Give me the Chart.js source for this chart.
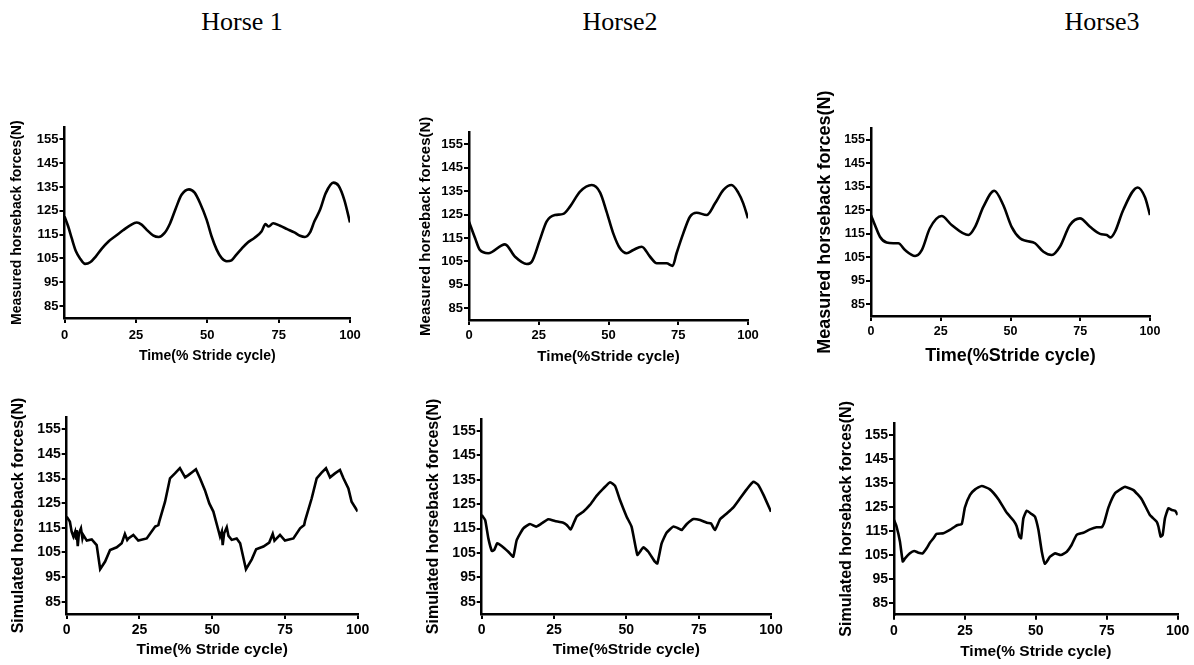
<!DOCTYPE html>
<html>
<head>
<meta charset="utf-8">
<script src="https://cdn.jsdelivr.net/npm/chart.js@4/dist/chart.umd.min.js"></script>
<style>
  body { margin: 0; background: #fff; }
  #page { position: relative; width: 1194px; height: 665px; overflow: hidden; background: #fff; }
  canvas { position: absolute; }
  .horse { position: absolute; font-family: "Liberation Serif", serif; font-size: 26px; color: #000;
           transform: translate(-50%, -50%); white-space: nowrap; }
</style>
</head>
<body>
<div id="page"></div>
<script>
// --- data ---
const horses = ['Horse 1', 'Horse2', 'Horse3'];
const xTicks = [0, 25, 50, 75, 100];
const yTicks = [85, 95, 105, 115, 125, 135, 145, 155];

// measured, horse 1
const m1T = [0, 1.3, 2.5, 4, 5.5, 7.2, 9, 11, 13, 15.5, 18, 20.5, 23, 25.3, 27, 28.8, 31, 33, 35, 37, 39, 41, 43.6, 45.5, 47.5, 49.8, 51.5, 53.3, 55, 56.8, 58.5, 60, 62, 64, 66.5, 69, 70.4, 71.5, 73.1, 75.5, 78, 80.5, 82.5, 84.2, 86, 87.5, 89.5, 91.5, 94.2, 96, 98, 100];
const m1F = [122.6, 118.4, 113.6, 108, 104.9, 102.7, 103.4, 105.9, 109, 112.2, 114.5, 116.8, 118.9, 120.1, 119.2, 117, 114.7, 114, 115.6, 119.8, 126.1, 131.7, 134, 132.7, 128.2, 121.2, 114.3, 108.7, 105.2, 103.8, 104.2, 106.3, 109, 111.5, 113.6, 116.3, 119.4, 118.4, 119.8, 118.7, 117.3, 115.9, 114.5, 114, 115.9, 120.5, 125.4, 132.4, 136.8, 135.5, 129.6, 120.1];

// measured, horse 2
const m2T = [0, 2.2, 3.9, 6.9, 12.9, 16.5, 20.7, 22.5, 25.4, 27.8, 30.8, 33.8, 36.2, 39.8, 44, 47, 49.3, 51.7, 54.1, 56.5, 58.9, 61.9, 64.9, 67.3, 70.8, 73, 74.4, 76.8, 79.2, 81.6, 85.2, 88.2, 91.2, 94.1, 96.5, 98.3, 100];
const m2F = [122, 114.9, 109.9, 108.5, 112.3, 107, 103.9, 104.9, 114.2, 122, 124.8, 125.3, 128.4, 134.8, 137.6, 134.4, 126.3, 117, 110.6, 108.5, 109.9, 111.3, 107, 104.2, 104.2, 103.1, 108.5, 117, 124.1, 125.8, 124.8, 129.8, 135.5, 137.6, 134.4, 129.8, 123.4];

// measured, horse 3
const m3T = [0, 1.4, 3.2, 5.6, 8, 9.8, 12.2, 15.8, 18.2, 21.1, 25.3, 28.9, 34.9, 37.3, 40.3, 44.2, 47.4, 50.4, 53.4, 55.8, 58.8, 61.8, 64.8, 67.7, 71.3, 74.9, 78.5, 82.1, 84.5, 85.9, 87.5, 90.4, 95.6, 98.2, 100];
const m3F = [123, 118.8, 113.8, 111.3, 111, 111, 108.1, 105.6, 108.1, 117.4, 122.6, 118.8, 114.5, 118, 126.6, 133.4, 127.3, 118, 113.1, 112, 111, 107.4, 106, 109.5, 118.8, 121.6, 118, 115, 114.5, 113.5, 116, 125.2, 134.8, 130.6, 123];

// simulated, horse 1
const s1T = [0, 1.1, 1.7, 2.3, 2.9, 3.2, 3.4, 3.8, 4.2, 4.9, 5.4, 5.7, 6.9, 8.6, 10.3, 11.5, 13.2, 14.9, 17.2, 18.9, 20, 20.8, 21.2, 22.9, 24.6, 27.5, 30.4, 31.5, 31.8, 33.8, 35.5, 37.2, 38.9, 40.7, 41.8, 43, 44.4, 45.8, 47.5, 49, 50.4, 52.1, 52.7, 53.3, 53.6, 54.1, 55, 55.6, 56.7, 58.4, 59.6, 61.6, 63.6, 65.1, 67.6, 69.6, 70.8, 71.4, 73.3, 75, 77.9, 80.2, 81.6, 81.9, 84.2, 85.9, 87.6, 89.1, 90.5, 92.2, 93.9, 95.1, 96.8, 97.9, 100];
const s1F = [119.5, 117.5, 113.4, 111.4, 113.4, 110.7, 114.1, 107.6, 112.8, 114.8, 110.7, 112.1, 109.8, 110.3, 108, 98.2, 101.3, 106, 107.1, 108.7, 112.5, 110.1, 110.7, 112.1, 109.8, 110.7, 115.5, 116.1, 117.5, 125.6, 135.1, 137.1, 139.2, 135.5, 136.4, 137.5, 138.8, 135.1, 130.3, 124.9, 121.6, 114.1, 111.4, 113.4, 108, 112.8, 115.2, 111.7, 110.1, 110.7, 108.7, 98.2, 102.2, 106.3, 107.4, 109, 112.5, 109.8, 112.1, 109.8, 110.7, 114.8, 116.1, 117.8, 127, 135.1, 137.4, 139.2, 135.5, 137.1, 138.5, 135.1, 131, 125.6, 121.6];

// simulated, horse 2
const s2T = [0, 1.2, 2.3, 3.5, 4.3, 5.4, 6.9, 9.2, 10.9, 12.1, 14.4, 16.7, 18.8, 20.7, 23, 25.3, 28.2, 29.4, 30.8, 32.8, 35.1, 37.4, 39.7, 42.1, 44.4, 46.1, 47.8, 50.1, 51.8, 53.8, 54.7, 55.9, 57.6, 59.9, 60.7, 62.2, 63.9, 66.2, 68, 69.1, 70.9, 73.2, 75.5, 77.8, 79.3, 80.6, 82.4, 84.7, 87, 89.3, 91.6, 93.9, 95.6, 97.4, 100];
const s2F = [120.6, 118.5, 111, 105.9, 106.2, 109, 107.9, 105.5, 103.5, 110.3, 115.1, 116.9, 115.8, 117.1, 118.8, 118.1, 117.4, 116.5, 114.7, 119.9, 121.9, 124.7, 128.4, 131.5, 134, 132.5, 126.7, 119.9, 115.8, 104.2, 105.5, 107.3, 105.5, 101.4, 100.7, 108.9, 113.3, 115.8, 115.1, 114.4, 116.9, 118.9, 118.5, 117.4, 117.1, 114.4, 118.8, 121.2, 123.7, 127.4, 131.1, 134.2, 132.9, 128.8, 121.9];

// simulated, horse 3
const s3T = [0, 0.9, 2.1, 3.1, 3.9, 5.6, 7.1, 8.6, 10.1, 11.5, 12.7, 13.9, 15, 17.4, 19.7, 21.5, 22.4, 23.9, 25, 26.8, 28.6, 30.9, 33.8, 36.8, 39.7, 42.1, 43.2, 44.2, 44.8, 45.6, 46.8, 48.5, 49.7, 50.9, 52.1, 53.2, 55, 56.8, 58.8, 60.9, 62.6, 64.4, 66.7, 69.1, 71.4, 73.2, 74, 75.6, 77.9, 80.3, 81.4, 84.4, 87.3, 90.2, 92.6, 93.2, 94, 94.7, 95.5, 96.7, 97.9, 99.1, 100];
const s3F = [119.5, 116.8, 110.5, 102.2, 103.5, 105.6, 106.6, 105.9, 105.6, 107.7, 110.1, 111.9, 113.7, 114, 115.4, 116.8, 117.4, 117.9, 124.8, 130, 132.3, 133.7, 132.3, 128.2, 122.6, 119.3, 117, 112.6, 111.9, 120.2, 123.4, 122, 120.9, 115.4, 106.3, 101.2, 104.2, 105.6, 104.9, 106.3, 109.1, 113.3, 114.2, 115.6, 116.5, 116.5, 118.1, 124.8, 130.7, 132.7, 133.4, 132, 128.2, 121.6, 118.8, 116.8, 112.6, 113.3, 120.2, 124.4, 123.7, 123.4, 121.6];

const measuredLabel = 'Measured horseback forces(N)';
const simulatedLabel = 'Simulated horseback forces(N)';

// --- panel placement (plot box edges, title centres, font sizes) ---
const panels = [
  { t: m1T, f: m1F, yTitle: measuredLabel, xTitle: 'Time(% Stride cycle)', L: 64.5, R: 350, T: 127.4, B: 318, yTX: 17, xTY: 357, fy: 14, fx: 14, ft: 13, xTickY: 335, tension: 0.4 },
  { t: m2T, f: m2F, yTitle: measuredLabel, xTitle: 'Time(%Stride cycle)', L: 469, R: 748, T: 132.6, B: 320, yTX: 426, xTY: 357, fy: 15, fx: 15, ft: 13, xTickY: 335, tension: 0.4 },
  { t: m3T, f: m3F, yTitle: measuredLabel, xTitle: 'Time(%Stride cycle)', L: 871, R: 1150, T: 128.3, B: 316, yTX: 825, xTY: 356, fy: 18, fx: 18, ft: 12.5, xTickY: 332, tension: 0.4 },
  { t: s1T, f: s1F, yTitle: simulatedLabel, xTitle: 'Time(% Stride cycle)', L: 66.7, R: 357.7, T: 417, B: 614, yTX: 19, xTY: 650, fy: 16, fx: 15.5, ft: 14, xTickY: 630, tension: 0 },
  { t: s2T, f: s2F, yTitle: simulatedLabel, xTitle: 'Time(%Stride cycle)', L: 481.7, R: 771, T: 418.8, B: 614, yTX: 434, xTY: 650, fy: 16, fx: 15.5, ft: 14, xTickY: 630, tension: 0.15 },
  { t: s3T, f: s3F, yTitle: simulatedLabel, xTitle: 'Time(% Stride cycle)', L: 894, R: 1177.7, T: 423, B: 614.7, yTX: 846.5, xTY: 651.7, fy: 16, fx: 15.5, ft: 14, xTickY: 630.7, tension: 0.15 }
];
const headerX = [242, 620, 1102];
const headerY = 22;

const page = document.getElementById('page');

horses.forEach((h, i) => {
  const d = document.createElement('div');
  d.className = 'horse';
  d.textContent = h;
  d.style.left = headerX[i] + 'px';
  d.style.top = headerY + 'px';
  page.appendChild(d);
});

const FAMILY = '"Liberation Sans", Arial, sans-serif';
const TICK_LEN = 5;

panels.forEach(p => {
  const padTop = 45, padRight = 22;
  const left = Math.round(p.yTX - 0.6 * p.fy);
  const top = Math.round(p.T - padTop);
  const right = Math.round(p.R + padRight);
  const bottom = Math.round(p.xTY + 0.6 * p.fx + 1);
  const yW = p.L - left;
  const xH = bottom - p.B;
  const xTickPad = p.xTickY - p.B - TICK_LEN - 0.6 * p.ft;

  const canvas = document.createElement('canvas');
  canvas.width = right - left;
  canvas.height = bottom - top;
  canvas.style.left = left + 'px';
  canvas.style.top = top + 'px';
  page.appendChild(canvas);

  const points = p.t.map((x, i) => ({ x: x, y: p.f[i] }));

  new Chart(canvas, {
    type: 'line',
    data: {
      datasets: [{
        data: points,
        borderColor: '#000',
        borderWidth: 2.6,
        pointRadius: 0,
        tension: p.tension,
        cubicInterpolationMode: p.tension > 0.3 ? 'monotone' : 'default',
        fill: false
      }]
    },
    options: {
      responsive: false,
      animation: false,
      devicePixelRatio: 1,
      layout: { autoPadding: false, padding: { top: p.T - top, right: right - p.R, left: 0, bottom: 0 } },
      plugins: { legend: { display: false }, tooltip: { enabled: false } },
      scales: {
        x: {
          type: 'linear',
          min: 0, max: 100,
          afterBuildTicks: s => { s.ticks = xTicks.map(v => ({ value: v })); },
          afterFit: s => { s.height = xH; },
          border: { display: true, color: '#000', width: 2.5 },
          grid: { drawOnChartArea: false, drawTicks: true, tickLength: TICK_LEN, color: '#000', lineWidth: 2 },
          ticks: { color: '#000', padding: xTickPad, maxRotation: 0, font: { family: FAMILY, size: p.ft, weight: 'bold' } },
          title: { display: true, text: p.xTitle, color: '#000', padding: { top: 0, bottom: 1 },
                   font: { family: FAMILY, size: p.fx, weight: 'bold' } }
        },
        y: {
          type: 'linear',
          min: 80, max: 160,
          afterBuildTicks: s => { s.ticks = yTicks.map(v => ({ value: v })); },
          afterFit: s => { s.width = yW; },
          border: { display: true, color: '#000', width: 2.5 },
          grid: { drawOnChartArea: false, drawTicks: true, tickLength: TICK_LEN, color: '#000', lineWidth: 2 },
          ticks: { color: '#000', padding: 1, font: { family: FAMILY, size: p.ft, weight: 'bold' } },
          title: { display: true, text: p.yTitle, color: '#000', padding: 0,
                   font: { family: FAMILY, size: p.fy, weight: 'bold' } }
        }
      }
    }
  });
});
</script>
</body>
</html>
